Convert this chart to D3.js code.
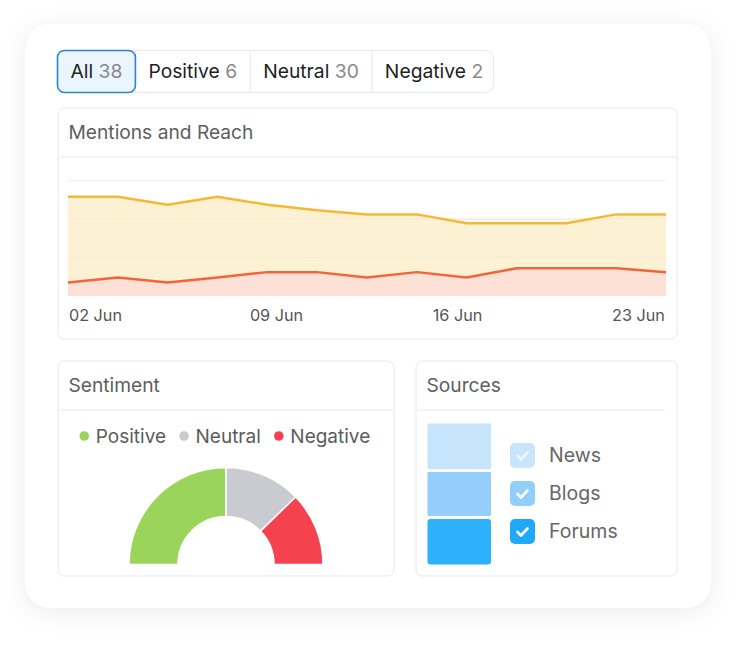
<!DOCTYPE html>
<html>
<head>
<meta charset="utf-8">
<script src="https://cdn.jsdelivr.net/npm/d3@7"></script>
<style>
  body { margin:0; background:#fff; font-family:Inter, "Noto Sans", sans-serif; }
  svg text { font-family:Inter, "Noto Sans", sans-serif; }
</style>
</head>
<body>
<div id="chart"></div>
<script>
// data
const tabNames  = ["All", "Positive", "Neutral", "Negative"];
const tabCounts = [38, 6, 30, 2];

const dateLabels = ["02 Jun", "09 Jun", "16 Jun", "23 Jun"];
const mentions = [258, 258, 237, 258, 237, 223, 212, 212, 189, 189, 189, 212, 212];
const reach    = [35, 48, 35, 48, 62, 62, 48, 62, 48, 72, 72, 72, 62];
const gridTicks = [100, 200, 300];

const sentNames  = ["Positive", "Neutral", "Negative"];
const sentValues = [50, 25.5, 24.5];
const sentColors = ["#9bd45a", "#c9cbd1", "#f5424f"];

const srcNames  = ["News", "Blogs", "Forums"];
const srcValues = [1, 1, 1];
const srcColors = ["#c6e4fb", "#94cefa", "#2db1fc"];

const W = 750, H = 649;
const svg = d3.select("#chart").append("svg").attr("width", W).attr("height", H);

const defs = svg.append("defs");
const sh = defs.append("filter").attr("id","shadow").attr("x","-20%").attr("y","-20%").attr("width","140%").attr("height","140%");
sh.append("feDropShadow").attr("dx",0).attr("dy",4).attr("stdDeviation",12)
  .attr("flood-color","#1a2a40").attr("flood-opacity",0.08);

// big outer card
svg.append("rect").attr("x",25).attr("y",24).attr("width",686).attr("height",584)
  .attr("rx",26).attr("fill","#fff").attr("filter","url(#shadow)");

// ---- tabs
const tabs = svg.append("g");
tabs.append("rect").attr("x",57.5).attr("y",50.5).attr("width",436).attr("height",42)
  .attr("rx",8).attr("fill","#fff").attr("stroke","#e6e8eb");
let tx = 57.5;
const tabBoxes = [];
tabNames.forEach((n,i)=>{
  const t = tabs.append("text").attr("x", tx+13).attr("y",78).attr("font-size",19.3);
  t.append("tspan").attr("fill","#1f1f1f").text(n + " ");
  t.append("tspan").attr("fill","#8a8a8a").text(tabCounts[i]);
  const len = t.node().getComputedTextLength();
  tabBoxes.push({x:tx, w:len+26});
  tx += len + 26;
});
// separators, then active box on top
tabBoxes.slice(1).forEach(b=>{
  tabs.insert("line","text").attr("x1",b.x).attr("x2",b.x).attr("y1",51).attr("y2",92).attr("stroke","#e6e8eb");
});
tabs.insert("rect","text").attr("x",tabBoxes[0].x).attr("y",50.5).attr("width",tabBoxes[0].w).attr("height",42)
  .attr("rx",7).attr("fill","#eaf5fd").attr("stroke","#2a84cf").attr("stroke-width",1.6);

// helper for the inner cards
function card(x, y, w, h, title, sepW){
  const c = svg.append("g");
  c.append("rect").attr("x",x+0.5).attr("y",y+0.5).attr("width",w).attr("height",h)
    .attr("rx",6).attr("fill","#fff").attr("stroke","#e7e8ea");
  c.append("line").attr("x1",x+1).attr("x2",x+(sepW||w)).attr("y1",y+49.5).attr("y2",y+49.5).attr("stroke","#e9eaec");
  c.append("text").attr("x",x+11).attr("y",y+31).attr("font-size",19.2).attr("fill","#5e5e5e").text(title);
  return c;
}

// ---- Mentions and Reach
card(57.5, 107.5, 619, 231, "Mentions and Reach");
const x = d3.scalePoint().domain(d3.range(mentions.length)).range([68, 666]);
const y = d3.scaleLinear().domain([0, 300]).range([296, 180.5]);

const lc = svg.append("g");
lc.selectAll(".grid").data(gridTicks).enter().append("line")
  .attr("x1",68).attr("x2",666).attr("y1",d=>y(d)).attr("y2",d=>y(d))
  .attr("stroke","#eeeeee");

const areaGen = d3.area().x((d,i)=>x(i)).y0(y(0)).y1(d=>y(d));
const lineGen = d3.line().x((d,i)=>x(i)).y(d=>y(d));

lc.append("path").attr("d", areaGen(mentions)).attr("fill","#fdf1d4");
lc.append("path").attr("d", areaGen(reach)).attr("fill","#fde0d6");
lc.selectAll(".grid2").data(gridTicks.slice(0,2)).enter().append("line")
  .attr("x1",68).attr("x2",666).attr("y1",d=>y(d)).attr("y2",d=>y(d))
  .attr("stroke","#f4ead4").attr("stroke-opacity",0.9);
lc.append("path").attr("d", lineGen(mentions)).attr("fill","none").attr("stroke","#f5b836").attr("stroke-width",2.5).attr("stroke-linejoin","round");
lc.append("path").attr("d", lineGen(reach)).attr("fill","none").attr("stroke","#f0663a").attr("stroke-width",2.5).attr("stroke-linejoin","round");

// date labels are spread edge to edge
const xl = d3.scalePoint().domain(dateLabels).range([95.5, 638.5]);
lc.selectAll(".dl").data(dateLabels).enter().append("text")
  .attr("x", d=>xl(d)).attr("y", 321).attr("text-anchor","middle")
  .attr("font-size",16.2).attr("fill","#555").text(d=>d);

// ---- Sentiment
card(57.5, 360.5, 336, 215, "Sentiment");
const leg = svg.append("g");
let lx = 0;
sentNames.forEach((n,i)=>{
  leg.append("circle").attr("cx", lx+4.5).attr("cy",436).attr("r",4.8).attr("fill",sentColors[i]);
  const t = leg.append("text").attr("x", lx+16).attr("y",442.5).attr("font-size",19).attr("fill","#5c5c5c").text(n);
  lx += 16 + t.node().getComputedTextLength() + 13.5;
});
lx -= 13.5;
leg.attr("transform", `translate(${225 - lx/2},0)`);

const pie = d3.pie().sort(null).startAngle(-Math.PI/2).endAngle(Math.PI/2);
const arc = d3.arc().innerRadius(48).outerRadius(97);
svg.append("g").attr("transform","translate(226,564.5)")
  .selectAll("path").data(pie(sentValues)).enter().append("path")
  .attr("d", arc).attr("fill",(d,i)=>sentColors[i]).attr("stroke","#fff").attr("stroke-width",1.5);

// ---- Sources
card(415.5, 360.5, 261, 215, "Sources", 249);
const stack = d3.scaleLinear().domain([0, d3.sum(srcValues)]).range([0, 141]);
let acc = 0;
const sg = svg.append("g");
srcValues.forEach((v,i)=>{
  const top = 423.5 + stack(acc) + (i>0 ? 1.5 : 0);
  const hgt = stack(v) - (i>0 ? 1.5 : 0) - (i<srcValues.length-1 ? 1.5 : 0);
  sg.append("rect").attr("x",427.5).attr("y",top).attr("width",63.5).attr("height",hgt)
    .attr("rx",i===srcValues.length-1?3:1).attr("fill",srcColors[i]);
  acc += v;
});

const rowY = d3.scalePoint().domain(srcNames).range([455.5, 531.5]);
const cb = svg.append("g").selectAll("g").data(srcNames).enter().append("g")
  .attr("transform", d=>`translate(510,${rowY(d)})`);
cb.append("rect").attr("x",0).attr("y",-12.5).attr("width",25).attr("height",25).attr("rx",5)
  .attr("fill",(d,i)=>["#c9e5fb","#93cdf9","#20a8fb"][i]);
cb.append("path").attr("d","M7.5,0.5 L11,4 L17.5,-3").attr("fill","none")
  .attr("stroke",(d,i)=>i===0?"#eef7fe":"#fff").attr("stroke-width",2.6)
  .attr("stroke-linecap","round").attr("stroke-linejoin","round");
cb.append("text").attr("x",39).attr("y",6.5).attr("font-size",19.5).attr("fill","#666").text(d=>d);
</script>
</body>
</html>
